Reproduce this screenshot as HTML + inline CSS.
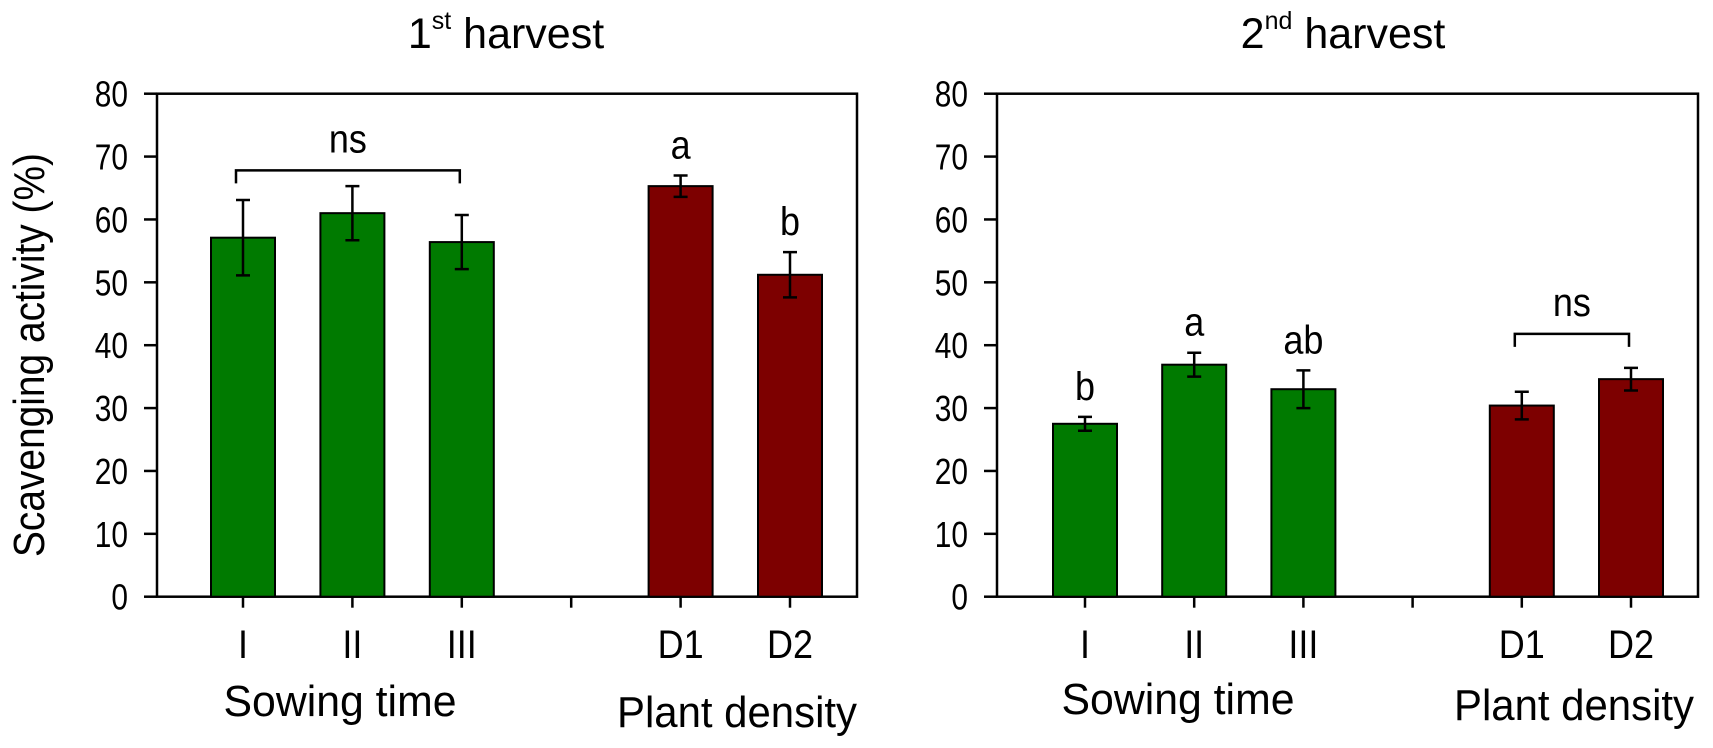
<!DOCTYPE html>
<html><head><meta charset="utf-8">
<style>
html,body{margin:0;padding:0;background:#fff;}
svg{display:block;font-family:"Liberation Sans",Arial,sans-serif;}
</style></head>
<body>
<svg id="chart" width="1713" height="748" viewBox="0 0 1713 748" xmlns="http://www.w3.org/2000/svg">
  <text x="0" y="0" transform="translate(44,355) rotate(-90)" text-anchor="middle" font-size="44" textLength="404" lengthAdjust="spacingAndGlyphs">Scavenging activity (%)</text>
  <text x="506" y="48" text-anchor="middle" font-size="43">1<tspan font-size="25" dy="-19">st</tspan><tspan dy="19"> harvest</tspan></text>
  <text x="1343" y="48" text-anchor="middle" font-size="43">2<tspan font-size="25" dy="-19">nd</tspan><tspan dy="19"> harvest</tspan></text>
</svg>
<script>
const categories = ["I","II","III","D1","D2"];
const p1Values = [57.1, 61.0, 56.4, 65.3, 51.2];
const p1Errors = [6.0, 4.3, 4.3, 1.7, 3.6];
const p1Letters = ["", "", "", "a", "b"];
const p2Values = [27.5, 36.9, 33.0, 30.4, 34.6];
const p2Errors = [1.1, 1.9, 3.0, 2.2, 1.8];
const p2Letters = ["b", "a", "ab", "", ""];
const yTicks = [0,10,20,30,40,50,60,70,80];
const slotIndex = [0,1,2,4,5];

const svg = document.getElementById('chart');
const NS = "http://www.w3.org/2000/svg";
function mk(tag, attrs, parent){
  const e = document.createElementNS(NS, tag);
  for (const k in attrs) e.setAttribute(k, attrs[k]);
  (parent||svg).appendChild(e);
  return e;
}
function condense(el, f){
  const len = el.getComputedTextLength();
  if (len > 0){ el.setAttribute('textLength', (len*f).toFixed(1)); el.setAttribute('lengthAdjust','spacingAndGlyphs'); }
}
const Y0 = 596.7, Y80 = 93.7;
function yScale(v){ return Y0 - (v/80)*(Y0-Y80); }

function drawPanel(cfg){
  const g = mk('g', {});
  
  
  const xScale = i => cfg.firstTick + slotIndex[i]*cfg.step;
  const frame = mk('rect', {x:cfg.left, y:Y80, width:cfg.right-cfg.left, height:Y0-Y80, fill:'none', stroke:'#000', 'stroke-width':2.5}, g);
  
  
  yTicks.forEach(t=>{
    const y = yScale(t);
    const tk = mk('line', {x1:cfg.left-13, x2:cfg.left, y1:y, y2:y, stroke:'#000', 'stroke-width':2.5}, g);
    
    
    const lb = mk('text', {x:cfg.left-29, y:y+13, 'text-anchor':'end', 'font-size':36}, g);
    
    
    lb.textContent = t;
    condense(lb, 0.83);
  });
  for (let s=0; s<6; s++){
    const x = cfg.firstTick + s*cfg.step;
    const xt = mk('line', {x1:x, x2:x, y1:Y0, y2:Y0+11, stroke:'#000', 'stroke-width':2.5}, g);
    
    
  }
  categories.forEach((c,i)=>{
    const x = xScale(i);
    const v = cfg.values[i], e = cfg.errors[i];
    const bw = 64;
    const bar = mk('rect', {x:x-bw/2, y:yScale(v), width:bw, height:Y0-yScale(v), fill: i<3 ? '#007a00' : '#7d0000', stroke:'#000', 'stroke-width':2}, g);
    
    
    const eb = mk('path', {d:`M${x},${yScale(v+e)}V${yScale(v-e)}M${x-7},${yScale(v+e)}h14M${x-7},${yScale(v-e)}h14`, stroke:'#000', 'stroke-width':2.5, fill:'none'}, g);
    
    
    const cl = mk('text', {x:x, y:658, 'text-anchor':'middle', 'font-size':40}, g);
    
    
    cl.textContent = c;
    condense(cl, 0.9);
    if (cfg.letters[i]){
      const lt = mk('text', {x:x, y:yScale(v+e)-17, 'text-anchor':'middle', 'font-size':40}, g);
      
      
      lt.textContent = cfg.letters[i];
      condense(lt, 0.9);
    }
  });
  const b = cfg.bracket;
  const xa = xScale(b.from)-7, xb = xScale(b.to)-2;
  const yb = yScale(b.level);
  const br = mk('path', {d:`M${xa},${yb+13}V${yb}H${xb}V${yb+13}`, stroke:'#000', 'stroke-width':2.5, fill:'none'}, g);
  
  
  const nt = mk('text', {x:(xa+xb)/2, y:yb-18, 'text-anchor':'middle', 'font-size':40}, g);
  
  
  nt.textContent = 'ns';
  condense(nt, 0.9);
  const st = mk('text', {x:cfg.sowX, y:cfg.sowY, 'text-anchor':'middle', 'font-size':44}, g);
  
  
  st.textContent = 'Sowing time';
  st.setAttribute('textLength', '233');
  st.setAttribute('lengthAdjust', 'spacingAndGlyphs');
  const pd = mk('text', {x:cfg.pdX, y:cfg.pdY, 'text-anchor':'middle', 'font-size':44}, g);
  
  
  pd.textContent = 'Plant density';
  pd.setAttribute('textLength', '240');
  pd.setAttribute('lengthAdjust', 'spacingAndGlyphs');
}

drawPanel({name:'panel-1st-harvest', left:157, right:857, firstTick:243, step:109.4,
  values:p1Values, errors:p1Errors, letters:p1Letters, bracket:{from:0,to:2,level:67.8},
  sowX:340, sowY:716, pdX:737, pdY:727});
drawPanel({name:'panel-2nd-harvest', left:997, right:1698, firstTick:1085, step:109.2,
  values:p2Values, errors:p2Errors, letters:p2Letters, bracket:{from:3,to:4,level:41.8},
  sowX:1178, sowY:714, pdX:1574, pdY:720});
</script>
</body></html>
